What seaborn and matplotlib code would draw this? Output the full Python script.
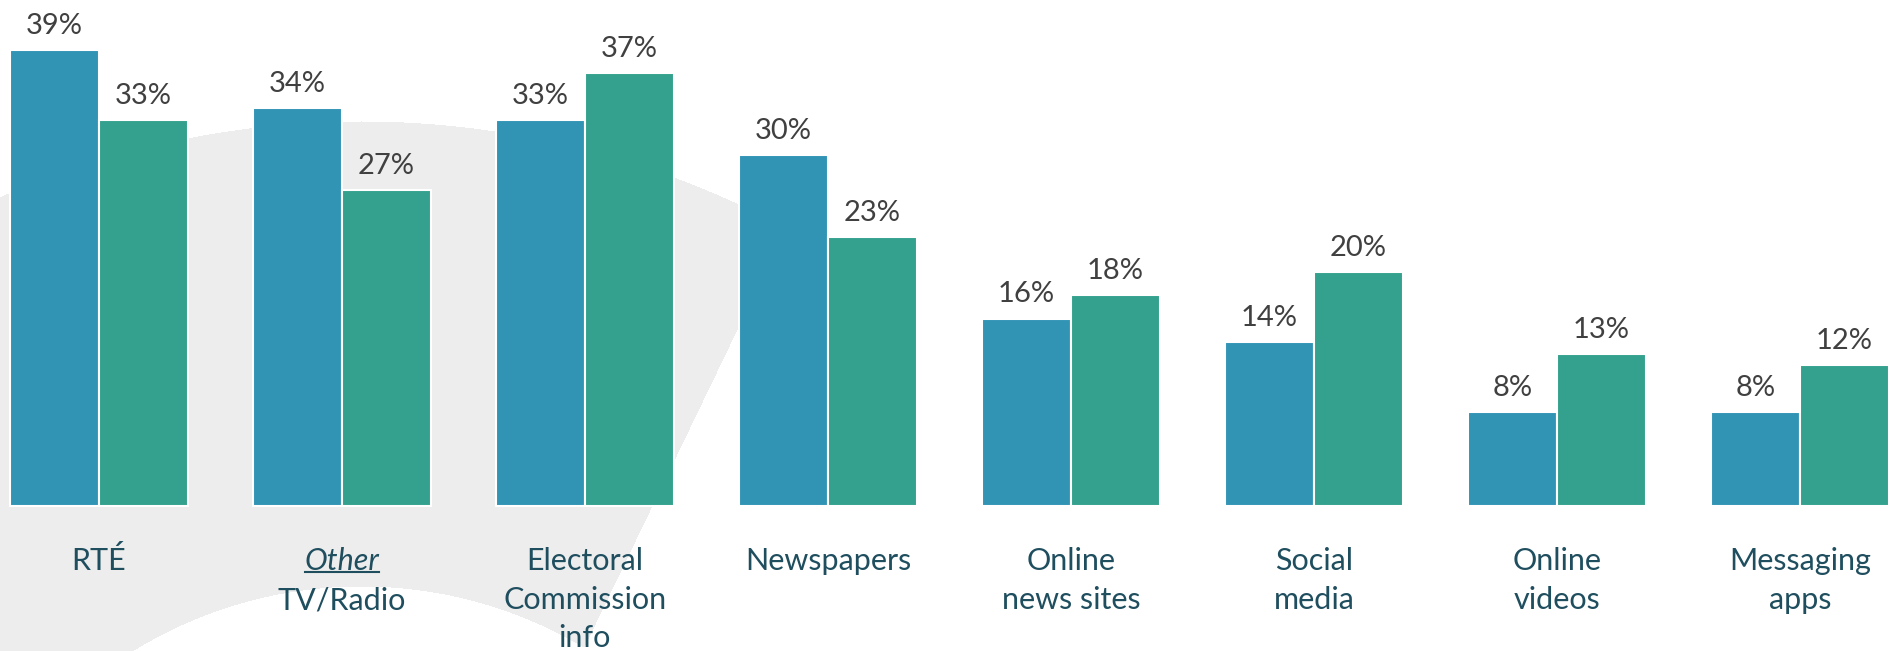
import numpy as np
import pandas as pd
import seaborn as sns
import matplotlib.pyplot as plt

categories = ["RTÉ", "Other TV/Radio", "Electoral Commission info", "Newspapers",
              "Online news sites", "Social media", "Online videos", "Messaging apps"]
label_lines = [["RTÉ"], ["Other", "TV/Radio"], ["Electoral", "Commission", "info"],
               ["Newspapers"], ["Online", "news sites"], ["Social", "media"],
               ["Online", "videos"], ["Messaging", "apps"]]
series_names = ["Series 1", "Series 2"]
series_1 = [39, 34, 33, 30, 16, 14, 8, 8]
series_2 = [33, 27, 37, 23, 18, 20, 13, 12]

blue = "#3194b4"
teal = "#33a18e"
label_col = "#1f4e5f"
value_col = "#404040"

df = pd.DataFrame({
    "category": categories * 2,
    "series": [series_names[0]] * len(categories) + [series_names[1]] * len(categories),
    "value": series_1 + series_2,
})

W, H = 1892, 651
fig = plt.figure(figsize=(W / 100, H / 100), dpi=100)
fig.patch.set_facecolor("white")

# decorative grey ring in the background
bg = fig.add_axes([0, 0, 1, 1], zorder=-1)
yy, xx = np.mgrid[0:H, 0:W]
d = np.hypot(xx - 361, yy - 1021)
x_cut = 703 + (yy - 400) * (582 - 703) / (651 - 400)
mask = (d <= 900) & (d >= 435) & (xx < x_cut)
img = np.ones((H, W, 3))
img[mask] = np.array([237, 237, 237]) / 255
bg.imshow(img, extent=(0, W, H, 0), interpolation="nearest")
bg.set_axis_off()

ax = fig.add_axes([0, 0, 1, 1])
ax.patch.set_alpha(0)
sns.barplot(data=df, x="category", y="value", hue="series", order=categories,
            hue_order=series_names, palette=[blue, teal], width=0.733,
            saturation=1, edgecolor="white", linewidth=1.5, legend=False, ax=ax)

for cont in ax.containers:
    ax.bar_label(cont, fmt="{:.0f}%", padding=8, fontsize=21, color=value_col,
                 family="Lato")

ax.set_xlim(-0.407, 7.379)
ax.set_ylim(-12.44, 43.25)
ax.set_axis_off()

line_y = [-4.74, -8.08, -11.33]
other_txt = None
for i, lines in enumerate(label_lines):
    for j, s in enumerate(lines):
        style = "italic" if (i == 1 and j == 0) else "normal"
        t = ax.text(i, line_y[j], s, ha="center", va="center", fontsize=22,
                    color=label_col, family="Lato", style=style)
        if i == 1 and j == 0:
            other_txt = t

# underline "Other"
fig.canvas.draw()
bb = other_txt.get_window_extent()
uy = bb.y0 + 3
ax.plot([bb.x0 / W, bb.x1 / W], [uy / H, uy / H], transform=fig.transFigure,
        color=label_col, lw=1.5)

fig.savefig("out.png", dpi=100)
